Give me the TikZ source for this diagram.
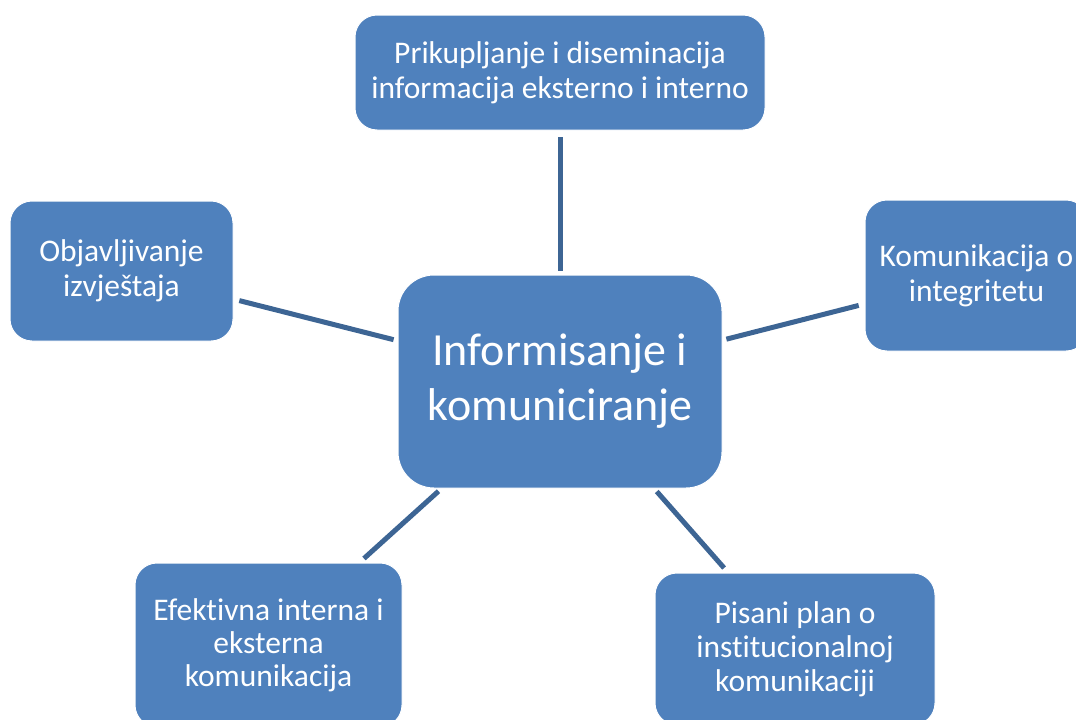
\documentclass[tikz,border=0pt]{standalone}
\usepackage{fontspec}
\setmainfont[Ligatures=NoCommon]{Carlito}
\definecolor{boxblue}{HTML}{4F81BD}
\definecolor{lineblue}{HTML}{3D6594}
\begin{document}
\begin{tikzpicture}[x=1pt,y=-1pt,
  box/.style={draw=white, line width=1pt, fill=boxblue, text=white, rounded corners=22pt,
    align=center, inner sep=0pt, font=\fontsize{31.5}{35}\selectfont},
  hub/.style={box, rounded corners=36pt, font=\fontsize{46}{55}\selectfont},
  conn/.style={draw=lineblue, line width=5pt, shorten <=4pt, shorten >=6pt}]
\useasboundingbox (0,0) rectangle (1076,720);
\clip (0,0) rectangle (1076,720);
\node[hub, minimum width=324pt, minimum height=213pt] (c) at (560,381.5) {Informisanje i\\komuniciranje};
\node[box, minimum width=410pt, minimum height=115pt] (t) at (560,72.5) {Prikupljanje i diseminacija\\informacija eksterno i interno};
\node[box, minimum width=223pt, minimum height=140pt] (l) at (121.5,271) {Objavljivanje\\izvještaja};
\node[box, minimum width=223pt, minimum height=151pt] (r) at (976.5,275.5) {Komunikacija o\\integritetu};
\node[box, minimum width=267pt, minimum height=164pt, font=\fontsize{31.5}{33}\selectfont] (bl) at (268.5,645) {Efektivna interna i\\eksterna\\komunikacija};
\node[box, minimum width=280pt, minimum height=152pt, font=\fontsize{31.5}{34}\selectfont] (br) at (795,649) {Pisani plan o\\institucionalnoj\\komunikaciji};
\draw[conn] (c) -- (t);
\draw[conn] (c) -- (l);
\draw[conn] (c) -- (r);
\draw[conn] (c) -- (bl);
\draw[conn] (c) -- (br);
\end{tikzpicture}
\end{document}
